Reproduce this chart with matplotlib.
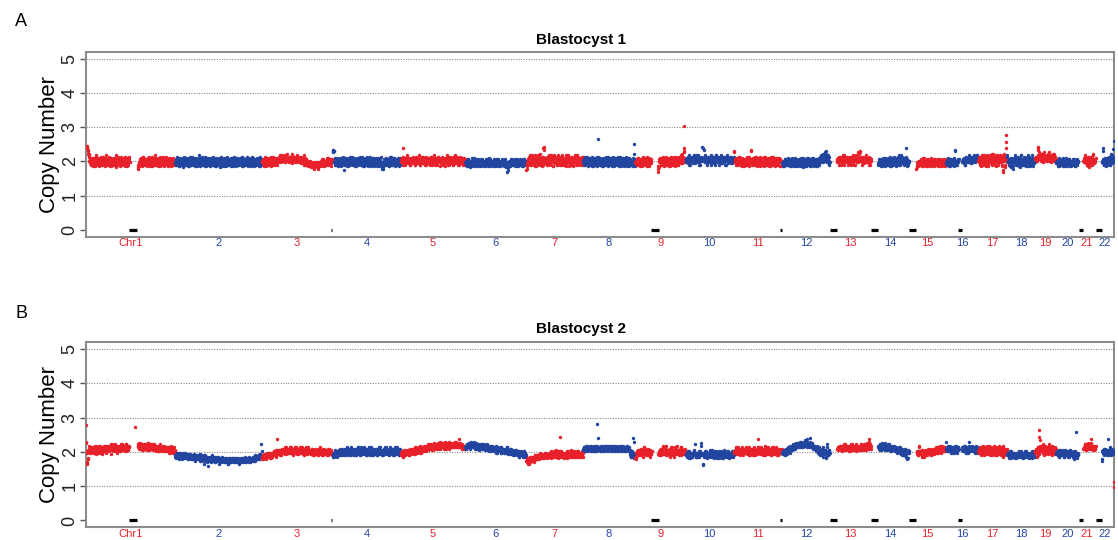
import matplotlib
matplotlib.use("Agg")
import matplotlib.pyplot as plt

# ---------------- data ----------------
chrom_names = ["Chr1", "2", "3", "4", "5", "6", "7", "8", "9", "10", "11",
               "12", "13", "14", "15", "16", "17", "18", "19", "20", "21", "22"]
chrom_len = [249.25, 243.2, 198.0, 191.15, 180.9, 171.1, 159.1, 146.4, 141.2,
             135.5, 135.0, 133.9, 115.2, 107.3, 102.5, 90.4, 81.2, 78.1, 59.1,
             63.0, 48.1, 51.3]
# regions without data (chrom, start Mb, end Mb) drawn as black marks at 0
gap_chrom = [1, 3, 9, 11, 13, 14, 15, 16, 21, 22]
gap_start = [121, 193, 45, 130, 0, 0, 0, 35, 0, 0]
gap_end = [142, 198, 67, 134, 19, 19, 20, 46, 13, 17]

# Copy-number estimates, one letter per bin
# ('a' = 1.50, each next letter +0.04, 'm' = 1.98, 'n' = 2.02); '.' = no data.
# *_first: first half of each ~1.5 Mb window, *_second: second half.
code_base = 1.50
code_step = 0.04

blast1_first = [
    "yxwvsrnlop mkonlpmjnq lomknpmlon kmqnlompkn lmonjpmlnk onmplnkmoq nlmkonpmln omjnlpkmon q......... ......hkjm onlpmkqnlo mnkolpmnjo lnmqkomlpn kmonlpmjon mlqnkomnlp nmkolnpmjn olmkn",
    "mnkolpmjnl omknpmlonk pmlnjomkqn lmonkplmon jnlmpkomnl qmknolpmjn omlkpnmoln kmpnljomnk lonmpkqnml onjmlpknom lnkomplnjm onlkmpnoml knmojlpmnk omlnqkmpln mojnkplmon lkmpnomljn ok",
    "mnlokpmjnl omknplmoqn lmonkpmlon nopmqnoprn oqnpmornpo npmqonsopn oqnpmonpqn pnomqnpolo nmpkolmnlk ljmkiljkml kjlmikljkm lnkmljonlm kmnolpmlno mln",
    "uvumoknlpm jnlomkpnml ognkmlpnjm olkqnmlonk pmjnlomkpn lmoknqlmjo nkpmlonmkq lnjomkpnlm okmlnpjmon lkhmiokmln pmknoljmqn lkomnplmkn omljnkp",
    "nopmkwonlp mnqolnpkmo nlpomknqon mplonkpnmo qlnomkpnol mnpkoqnlmo pnkmonlqpm nojmpnolkn pomlnqkmon plnmokpnml onqmlnkpom nlmpokn",
    "mlknjmokln mkplmnjlom kmlnomjkln lmokmlnjmk olnmkpljmn lkmonjlmkn mlokmjnlkm nlkmojlmfi kmlnjomkln mkolnmjlnk mlonkmljno kmln",
    "gjlnopmkqn lrnmkponjq mnrlokpnmq jowxnplmon kqnmlpornm jnqolmpknr omlpnqkonm lpnkrmoqnj mpolnkqpmo nrlmopkqnm lonpkq",
    "nmokpnlmqn olkmpnjomn lpmkonqlmn okpnmljnom kpnolmqnkm onlpjmnokm plnomkqnlm ojnkpmlonm kqnmlojpnm lkmnjomn",
    "mnlokmpnjm olnkmpnlom knqmlojnml n......... ...hfnmplo mknqlonmpk lnmojkpnml onkqmlnpom lnkmpqonsl pmuwno",
    "nopmlqnokp monqlpnmor nopmqknopn xnopvqmpnl oqnmponkpo nqmlponrnm poknqomlpn oqmnpkoqnl pmonqnlopm",
    "uonmklponm qlnkmponlj nomkplnqmo lnukomnplm kqnolmpnjm olnkpmqnlo mknplomjnq lmokpnlmon kmplnojmnl",
    "lkmnjlonmk plmnkjolmn kmlopnjlkm nlokmjnlpm kmonljmkpn lmokjnmlpk mnlojkmnlp mqonrpmsqt nruqmpokn",
    ".......... ...nopmqno kpnorlmoqn pnomkqonpl onqmpnokrn pomtnopuqn mopnlqonpm nomkpno",
    ".......... ...lmnkolm jnplmkomnl kpmnlojmnk pmlqnomklp nmrkoplnqm onpmlwnkom ln",
    ".......... ...hjmlknm lokmjnlmpk mnljomklnm kplmnjlokm lnmkoljmnl kmnolkmj",
    "lmnkolmjnm okmlnpvmkn lmon...... nmoplnkomp noqmpnolpq nmopqnorpo",
    "nopkqnmrol pqnmojrnpk oqnlpmsonq mpkornqlpo nqmpjofrnq iwpn",
    "rnmlojnpmk hmonlqpmkn oljnpmrkon mpknolqmjn pkomnlrnmj on",
    "opqnpxwoqr nopsqmprqo pqnroptqop nrqopsqon",
    "mlnkmjolkn mlpkmnjlom knlmojlnkm lnmkojmlnk mn",
    "......... nomqpnkmjo nlqomkpnrm lon",
    "........... nmwlokmjnp lmonqkmsnl opm",
]
blast1_second = [
    "xwyusqmnkp lnpjmokmrl nkpmjolnqk mplknjorlm nkqlmpjnok mlpnirkonm lpmjnqkmol nkqmpljnko m......... ......ilkn mpkjnqlomk oljmpnkqlm njpkmolrkn pljnmokqmn knpmjlonqk mljpnkomln kpnml",
    "lokmqnjlpm nkolimqnkp lnokmjplnm kqmlnojkpm onlkrmjnpl mkonlqjmnp knmljopnkm qlmokjnpml nkmiopnljm kpmnljoqkn mlojkpnmlq kmnpjloknm lpnmkqjomn lknpmojlmk nplkqmjonl mkonpljmqn lm",
    "nlmjokqnml pnkmlonjpm kqnolmpkno oqnprmopqn pnrmoqnspo oqmpnrlopq npmoqnrpmo qnplomnpkr mkolnjmlkn kimljkhlkj mkjlihkmjl mkolnjmkln nlpmkomnjl om",
    "vtumlpkonm lnkpmjonlq mkplnomjnl kpnmolqkmn lonjmkpnlm qmkonljpnm lomkqnjlpm nkmopljnmk plnjomknlq mjikhlnmok lnomkjqpmn okmlpnjmln kmpnolm",
    "mpnoqlnkpo nrmolpkonm pmqnokmlpn onrmkpoqnl mpnkoqlnpm onlqpnkmro nplokmqnpm olnqpkmonj nprmoklqno mnqkporlnm pokmnqlnpo mknpo",
    "lmjnkolmin lnkmjplmkn ojlmknlmjo kmnljmkoln mjlnokmlkn jmlnkomljm nkmljnoklm jlnmkijgkm nljmknolmk jnmlkomjln kmljnoklmn lm",
    "hkmoqlnrpk mqolnjrpmn konqmsplmn kqvnolpmqk nrmolkpqnj omrlnpkqom nqkmplornk pmoqjnlrpm okqnmpljon qmnkrpolmn pkomqn",
    "mokqnlpmjn lpnkomqljn okmpnljqnm pkmnoljpmn lmqkonjmpl nkomplqnjm olnkpmjnoq lmkonpljmn ojkmpnlmok nmlkpnjo",
    "lnmkpolmnk nomjlqnmkp mljonkpmln o......... ...jiomnkp nlpmjoknql mokpnjlmqn kplnmojqnm okmqnlrpmn qmtpmo",
    "mpoqnkrnpo nqpmorlnpm qonrmpknqo pwnqomrnpk nopmqnlrpo mpqnkorpmn qnpomrlnpq nmpkqonrmp onqmlpnomq",
    "tnmplkonmq nkpmjolnmk omlnqkpmjn mvnlpkomqn lmpjnoklqm nkolpmjnqk mlonjpkmnl okqmnljpmo nlkmpojnmk",
    "mjlnkomlkn mkolnjmkpl nljmkonmlj kmnljpmkoi lnkmjoplmk njmlkpomjn klmnojlmkp nprmoqsnrp qsomrnqlm",
    ".......... ...mpoknqo nmqopkrnmo oqmnplonkq npmrokqpon mqnsoptnpo knqomprnmo pnoqmkn",
    ".......... ...kmolnjm lonkmpjlnm okmlnqjmlo nkmolpnjmk qlmnkorlmn pkmolnqjmk nm",
    ".......... ...ikljnml kmnljpmkln jmokmlnkjm lnkmjolmkn mlkjnmolkm jlnkmoln",
    "mknlpjmolk nlmkjoumln kmno...... monlpkmqno pmrnoqlnpm orpmnqoprn",
    "mqoljpnqkm ronkplqmjn prmonqkslp nqjomrpkno rmpqkngosp kqom",
    "qmoknlipon jnpmrkolmq nkmpirlnom kqnpljomrn mqjnopkmnl pm",
    "pqonrvtpqo sqnroptqpn oqrpsnoqrm pqsonrpqo",
    "lnmjkplnmk onljmklpnj mlkonlmjkn mokljnmkol nm",
    "......... mpnrolkqni ompkqnlsom nmp",
    "........... mouknlpmok nplmkqonrm nqo",
]
blast1_out_chrom = [8, 8, 8, 9, 17, 17, 22, 22]
blast1_out_pos = [42, 143, 144, 137, 79, 77, 50, 49]
blast1_out_val = [2.65, 2.51, 2.22, 3.03, 2.77, 2.55, 2.60, 2.35]

blast2_first = [
    "uneiornmpq nopmqnrolp onqpmrnopq lpornqopmq pnrqoplsqo pqnroqpmrq oprqnpsqop rqpnsoqpro q......... ......srqp tqrpsqorqp rsqpqtrpoq srpqrqosqp qropqrnpqo pqonrpoqnp oqnpmqonpo nqpmon",
    "kljmkilkjm ljkimklijk jlkihjklij kijhlkjihj ijkhijgkih jhiekjhigj cihjgihkhg ihjfhgihjg hgifhjghig fhgihgehgi hgfihghfig ghfhigfhgh igfhgihgfh ghihfghigh hjgihghijh ijhkiljs",
    "ijhkjilkjm kjlmkiljmk lmknmlokwl mnlomnkpmo nmpolnqonm opnmqnopln oqnmponlpo mnqopmnokp nomqlnopmn olmpnkomnl pnmolknmoq lnmokpnmln omknpmlonm nl",
    "ljkmlnkmjl nmkolnmpkn olmnpkmonl pnmokqnmlo nkpmonlqnm okpnmlonqm nlpomknpol mnqkonmplo nmkponlmqn olmnkpomnl qnmolpknom plnmokqnml onpmknm",
    "lmknjmolkn mlonkmpnlo nmpolnqomn opnqmpoqnp qopnrqpoqr pqsrqoprqs qrpsqtrqsp rsqtrpsurq stqrsptrqs rtsqrusqtr sqwrtqsrpq rpq",
    "qrpsqrtqsr uqstrqsrpt rsqprsqrpq srqpqrpqso pqropqnrpq opqnpromqp onpqmonpon mpnoqlnomn plmonkmnlm okmlnjmkln mkljnmlk",
    "ghfihegihj hgijfhikhj ijkhjlikjk lijkmjlkil kjmlkjnlkj lmkjlokjml kjlnkmljkm iljmklnjlk mjlkoljkml kjlmkjlnkm ljkmlj",
    "opqnpropqn poqrnpqopn qpornqpoqp nprqopnqpo rpqnopqrpo qnprpoqnpq orpnqopqrn poqnpoqpnr opqnokmjnl kilm",
    "ijmlnkomnl pmknolmqnk omlnpkmonl m......... ...lnmokpn mrlonqmkpn lomnjpmloq nkmolpnrmo lnkpmqonml onpm",
    "lkmjlnkmil mkjlnmkslj mklnjkmltl dkmjlnkmil jmlkonljmk lnkjmlikml njlkmijlnk mlkjnmliml kjmlnk",
    "nmopnlmqon mlpnoknmpo nqmlonpkmo nlpomnkpon mwqnolpnmo knpmoqlnmp onlmpkonqm lnopmknolm pnmo",
    "mnlomnkpon oqnprnoqpr psqrpqtrsq rtsuqsrtqs usrtvsuqsr txsrtqsrqp rqopnqpolq nkmopjqlmn oinlsmkon",
    ".......... ...pqopqrp qnproqpsqo prqpnqorpq sqopqrnpqo qrpoqspqor pqrosqptqr wqrp",
    ".......... ...qrpsqop rtqpqsrqpo qrpqsqonpq rpoqpnoqpo npqomnpnko mnlopmjnhm on",
    ".......... ...mlnkmrl mnjomlknmo lnkmponlmk nomlpnmonp omqnpoqnpr opqnop",
    "uopqnoprqo pnqomprnoq pmoq...... opnqropmqp nouqpnoqpr onpqnpomqo",
    "nompqnkolp mqonlprnmo pknqomlpnr omkpqnlonp mqnkopjnom pnlo",
    "lkmjlnkilm kjlmikljml kjnlkmjlki lmjklnkjml kiljmklnjl km",
    "nmopjnqmln proqmnkprn omqlnsqopm nkropmlnp",
    "mlnkmjolkn lmnkjmlonk mlnjkmolnk lmjknlimkj lm",
    "......... pqrsoqprqt qpsrwqprqo rqp",
    "........... gnmokpnmlo nwmkonplnm onl",
]
blast2_second = [
    "tmfhnpmqon pnoqmporqn pmorqnpqop mqoprnpoqr oqpnrqpsoq qopsrnpqro pqrnoqspqr qposnrqpoq r......... ......qsrt qrpsoqrpsq pqsrotqrps qpsroqrpqn rpoqnqpsop qnpoqrnpoq npoqnpmroq ponmqo",
    "jkilmjkhlj kihjlkjmik ikjhjlikhj jhkijgikhj hjiklhgjih ihkgjihfjh hgijhfigjh gihfhjgihe gihfgihghf ihgfhegihg fhgighfhgi hfgihegfhg hgifhgjhfg hihgjfihgi ijhgikhjih jkihljkn",
    "hjkiljkhlk jlkmjklimj mklnlmjnol nmokmnlpno mnqnolpnom pnoqmnpokn pnmoqnlpon nmponqmlpo mnpolmqnom nlmopmknom onlmpknomn mkonlmpmnl nmlokpnmon mk",
    "kljmkolnlk mnlpkmonlm nkpmlonqmn okmnlpnomk mpnlkonqml nkqomlpnmo mkonplmnqk olnmpkomnl mopknlqmon nkmolnpqmn pmolknqomn mokpnlmonq mnolkpm",
    "kmljnlkomn lnmokmlopn opmnqlonpo nqoprmoqnp prqonqprsq qrpsqrotrq rsqrpstqru qtrsqrtsqp trsqurtrsq sqrtsrqusr rtqsrqpsrq qpr",
    "rpqsrqtrps qtrsqurqsp qsrqopqsrp qrpsqoprqo qpnoqrpopq nopqmoqnpo pnmqopnomn opmnqonmlp monmlknmol nlmkjnlmkm ljmnkmlj",
    "hgieghfjig ihjghjkihk jkhijmkjli kjlikmljkj lkjmlikmlk jnlkmjklni lkjmlnkjml jkmlkijnlk ljmknlkjmn ljkmlnjkml kjlnkm",
    "pqoqpnrpoq opqrpnoqpr poqnprqopq qonprpqonr pqorpnqpop rqopnqprpo qpnoqrpoqn pqropnqpor pqnomljkmj lkmj",
    "jhlmonlmkn olnjmqlnom nkpmlonjml n......... ...mkonlpm nqmolprnkm onlmpkqnlm omjnqplmon mlonkqnpml nmol",
    "kmljnkimlk ljmkonlkjm lkjmnlrkml ekljmnkjlm kljnmkolji mklnjlkmil kmlnjkiomk ljmknlmjkl mnkjlm",
    "mnqolmnpok nmoqlnpmon mpolnqkomn pomknqmonl nqponmlqon mpokrnmoql nmpoknqmon mlpqnokmpn onmp",
    "lmnokmpnlo pnoqmrpoqs qrpsqrsqtr sqtrsuqtsr tsvurswtsq sruqtsrpqr qponrqmpon lmnpkonmlo njmqknlom",
    ".......... ...qopqrpo rpqosqpoqr qopqrnpqso prqoqpsrqp oqrpqsoprq srqpoqrsqp uqsr",
    ".......... ...rpqosrq qsprqotqrp psqpornqpo qoprnqpomn opnmqnlopk nmkopljmin mn",
    ".......... ...nkmlqmn lkomnljnmk mnlolmpnko mnpolmoqnm pqnormpoqn poqnp",
    "pqnropqnmp oqmnpqonrp nqop...... qnporqmonp qmpronqpon pqnomrpoqn",
    "mpnoqlnmrp nkoqmlpnor mnqolkpmon qnlpmkonqr nolpmrqnkm onmp",
    "kmlijlnkml jkmlkijlmk ljlmkjnlki kmlnjlkmlj lkjmliknlk lj",
    "mopnkqomrn qnpomsrlon pqnmorpqln onqpnmqol",
    "lmknjmlonk mlkonjmlnk lnkmjlnmkl mjkhlnkjmi kl",
    "......... qpsrqoprsq rpqtsrqopr qpr",
    "........... hmonlpmonk omnlpqmknp nmo",
]
blast2_out_chrom = [1, 1, 7, 8, 8, 8, 8, 19, 19, 19, 20]
blast2_out_pos = [0.5, 138, 95, 40, 41, 141, 142, 12, 10, 14, 57]
blast2_out_val = [2.79, 2.73, 2.45, 2.82, 2.42, 2.40, 2.30, 2.64, 2.45, 2.35, 2.58]
# first bins of chromosome X, at the right border of panel B
blast2_x_val = [1.13, 0.98]

panel_titles = ["Blastocyst 1", "Blastocyst 2"]
panel_letters = ["A", "B"]

# ---------------- drawing ----------------
RED = "#E8202A"
BLUE = "#2245A0"
DOT = 6.0
plt.rcParams["font.family"] = ["Liberation Sans", "DejaVu Sans"]

starts = []
acc = 0.0
for L in chrom_len:
    starts.append(acc)
    acc += L
total = acc
mids = [s + L / 2 for s, L in zip(starts, chrom_len)]
colors = [RED if i % 2 == 0 else BLUE for i in range(len(chrom_len))]

W, H = 1118, 540
fig = plt.figure(figsize=(W / 100, H / 100), dpi=100)


def decode(ci, s, frac):
    s = s.replace(" ", "")
    n = len(s)
    L = chrom_len[ci]
    xs, ys = [], []
    for i, ch in enumerate(s):
        if ch == ".":
            continue
        xs.append(starts[ci] + (i + frac) * L / n)
        ys.append(code_base + (ord(ch) - ord("a")) * code_step)
    return xs, ys


def draw_panel(ax, first, second, oc, op, ov, xvals=None):
    for y in range(1, 6):
        ax.axhline(y, color="#8a8a8a", lw=0.8, ls=(0, (1, 1.3)), zorder=1)
    for ci in range(len(chrom_len)):
        x1, y1 = decode(ci, first[ci], 0.25)
        x2, y2 = decode(ci, second[ci], 0.75)
        ax.scatter(x1 + x2, y1 + y2, s=DOT, c=colors[ci], linewidths=0,
                   zorder=3)
    for c, p, v in zip(oc, op, ov):
        ax.scatter([starts[c - 1] + p], [v], s=DOT, c=colors[c - 1],
                   linewidths=0, zorder=3)
    if xvals:
        ax.scatter([total + 0.5] * len(xvals), xvals, s=DOT, c=RED,
                   linewidths=0, zorder=3, clip_on=True)
    gx0 = [starts[c - 1] + a for c, a in zip(gap_chrom, gap_start)]
    gx1 = [starts[c - 1] + b for c, b in zip(gap_chrom, gap_end)]
    ax.hlines([0] * len(gx0), gx0, gx1, colors="black", lw=2.3,
              capstyle="butt", zorder=4)
    ax.set_xlim(0, total)
    ax.set_ylim(-0.2, 5.2)
    for sp in ax.spines.values():
        sp.set_color("#8c8c8c")
        sp.set_linewidth(1.5)
    ax.set_yticks(range(6))
    ax.set_yticklabels([str(i) for i in range(6)], rotation=90, va="center")
    ax.tick_params(axis="y", length=4.3, width=1, color="#555555",
                   labelsize=13, pad=1, labelcolor="#222222")
    ax.set_xticks(mids)
    ax.set_xticklabels(chrom_names, fontsize=8)
    ax.tick_params(axis="x", length=0, pad=1)
    for lab, col in zip(ax.get_xticklabels(), colors):
        lab.set_color(col)


left = 86 / W
width = 1028 / W
height = 185 / H
tops = [51.7, 342.3]
datasets = [
    (blast1_first, blast1_second, blast1_out_chrom, blast1_out_pos,
     blast1_out_val, None),
    (blast2_first, blast2_second, blast2_out_chrom, blast2_out_pos,
     blast2_out_val, blast2_x_val),
]
title_y = [40, 329]
letter_y = [21, 314]
for k in range(2):
    top = tops[k]
    ax = fig.add_axes([left, 1 - (top + 185) / H, width, height])
    f1, f2, oc, op, ov, xv = datasets[k]
    draw_panel(ax, f1, f2, oc, op, ov, xv)
    fig.text(581.5 / W, 1 - title_y[k] / H, panel_titles[k], ha="center",
             va="center", fontsize=11, fontweight="bold")
    fig.text(21 / W, 1 - letter_y[k] / H, panel_letters[k], ha="center",
             va="center", fontsize=13)
    fig.text(49 / W, 1 - (top + 92.5) / H, "Copy Number", rotation=90,
             ha="center", va="center", fontsize=16)

fig.savefig("out.png", dpi=100)
